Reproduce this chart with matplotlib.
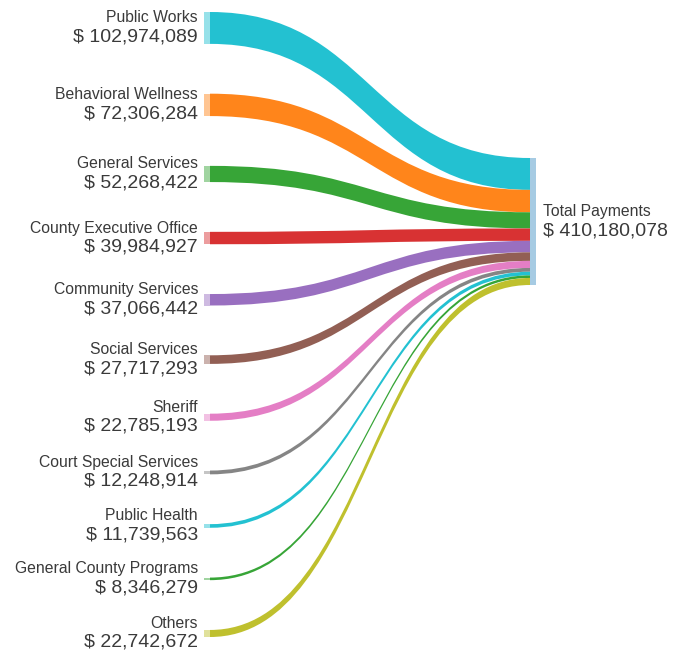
import matplotlib.pyplot as plt
from matplotlib.path import Path
from matplotlib.patches import PathPatch, Rectangle

plt.rcParams['font.family'] = ['Liberation Sans', 'DejaVu Sans']

# data
departments = ['Public Works', 'Behavioral Wellness', 'General Services', 'County Executive Office',
               'Community Services', 'Social Services', 'Sheriff', 'Court Special Services',
               'Public Health', 'General County Programs', 'Others']
payments = [102974089, 72306284, 52268422, 39984927, 37066442, 27717293,
            22785193, 12248914, 11739563, 8346279, 22742672]
target = 'Total Payments'
total = 410180078
colors = ['#17becf', '#ff7f0e', '#2ca02c', '#d62728', '#9467bd', '#8c564b',
          '#e377c2', '#7f7f7f', '#17becf', '#2ca02c', '#bcbd22']

W, H = 683, 661
fig = plt.figure(figsize=(W / 100, H / 100), dpi=100)
ax = fig.add_axes([0, 0, 1, 1])
ax.set_xlim(0, W)
ax.set_ylim(H, 0)
ax.axis('off')

# layout in pixels
left_x, right_x = 210, 530
node_w = 6
top, bottom = 12, 637
r_top, r_bot = 158, 285
k = (r_bot - r_top) / total  # px per dollar
heights = [v * k for v in payments]
pad = (bottom - top - sum(heights)) / (len(payments) - 1)

txt = '#3a3a3a'
y = top
ry = r_top
for name, val, h, c in zip(departments, payments, heights, colors):
    # flow band
    xm = (left_x + right_x) / 2
    verts = [(left_x, y), (xm, y), (xm, ry), (right_x, ry),
             (right_x, ry + h), (xm, ry + h), (xm, y + h), (left_x, y + h), (left_x, y)]
    codes = [Path.MOVETO, Path.CURVE4, Path.CURVE4, Path.CURVE4,
             Path.LINETO, Path.CURVE4, Path.CURVE4, Path.CURVE4, Path.CLOSEPOLY]
    ax.add_patch(PathPatch(Path(verts, codes), facecolor=c, edgecolor='none', alpha=0.95))
    # source node
    ax.add_patch(Rectangle((left_x - node_w, y), node_w, h, facecolor=c, edgecolor='none', alpha=0.45))
    cy = y + h / 2
    ax.text(198, cy - 10, name, ha='right', va='center', fontsize=11.3, color=txt)
    ax.text(198, cy + 9, f'$ {val:,}', ha='right', va='center', fontsize=14, color=txt)
    y += h + pad
    ry += h

ax.add_patch(Rectangle((right_x, r_top), node_w, r_bot - r_top, facecolor='#a6cbe3', edgecolor='none'))
rc = (r_top + r_bot) / 2
ax.text(543, rc - 10, target, ha='left', va='center', fontsize=11.3, color=txt)
ax.text(543, rc + 10, f'$ {total:,}', ha='left', va='center', fontsize=14, color=txt)

fig.savefig('out.png', dpi=100, facecolor='white')
